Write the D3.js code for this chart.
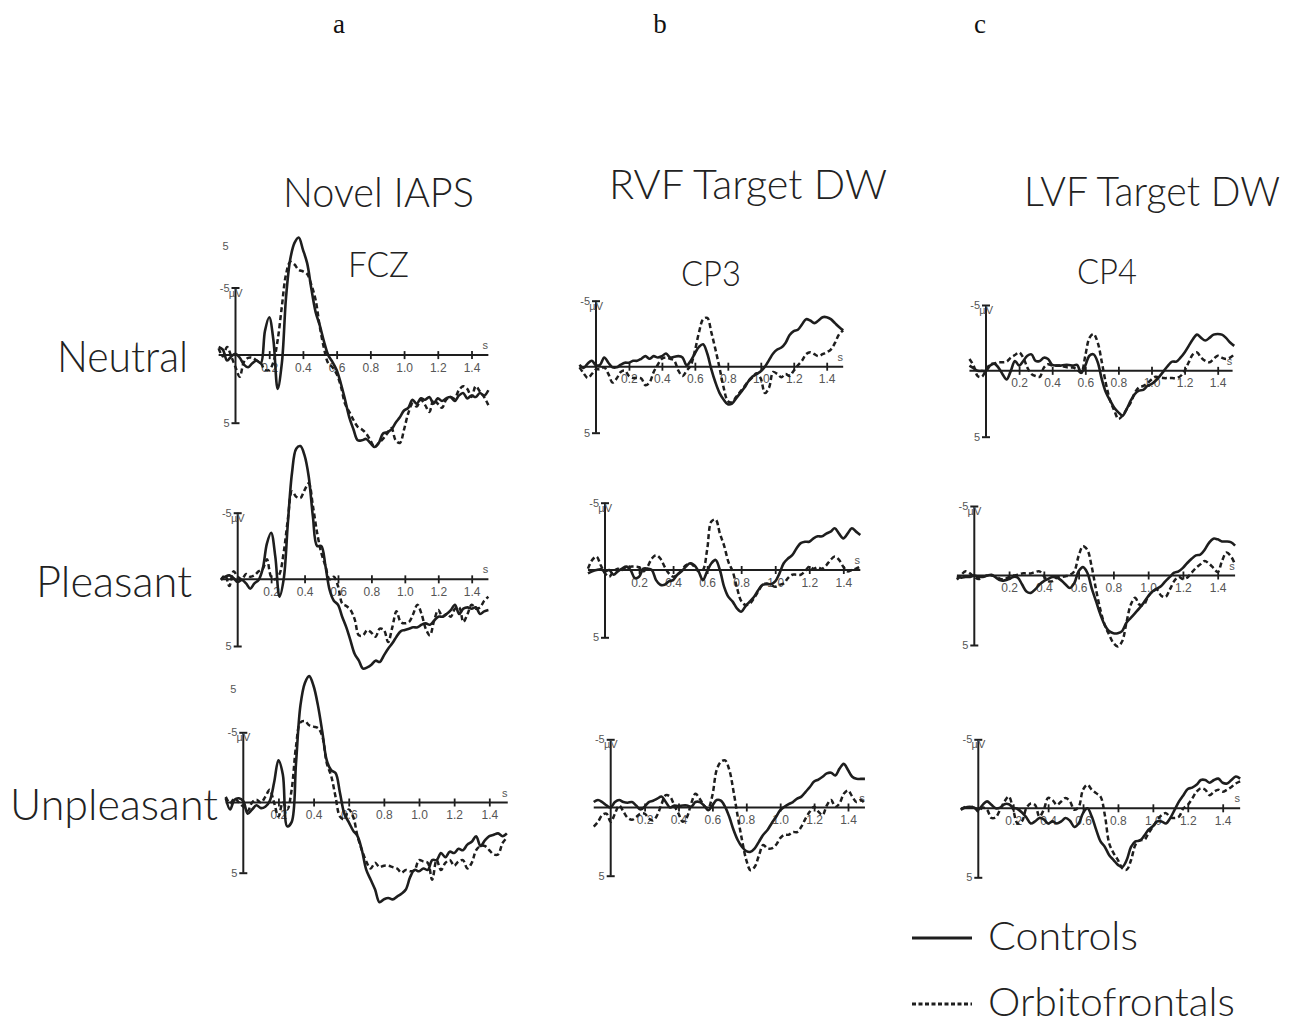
<!DOCTYPE html>
<html><head><meta charset="utf-8">
<script src="https://cdn.jsdelivr.net/npm/d3@7"></script>
<style>body{margin:0;background:#fff}svg{display:block}</style>
</head><body>
<script>
// ---------------- DATA ----------------
const time = [-0.1,-0.075,-0.05,-0.025,0,0.025,0.05,0.075,0.1,0.125,0.15,0.175,0.2,0.225,0.25,0.275,0.3,0.325,0.35,0.375,0.4,0.425,0.45,0.475,0.5,0.525,0.55,0.575,0.6,0.625,0.65,0.675,0.7,0.725,0.75,0.775,0.8,0.825,0.85,0.875,0.9,0.925,0.95,0.975,1.0,1.025,1.05,1.075,1.1,1.125,1.15,1.175,1.2,1.225,1.25,1.275,1.3,1.325,1.35,1.375,1.4,1.425,1.45,1.475,1.5];
const xTicks = [0.2,0.4,0.6,0.8,1.0,1.2,1.4];
const yTicks = [-5,5];
const columnLetters = ["a","b","c"];
const columnTitles = ["Novel IAPS","RVF Target DW","LVF Target DW"];
const electrodes = ["FCZ","CP3","CP4"];
const conditions = ["Neutral","Pleasant","Unpleasant"];
const groups = ["Controls","Orbitofrontals"];

// µV, negative plotted upward
const fczNeutralControls = [-0.6,-0.4,0.4,0.1,-0.1,0.2,0.7,0.9,0.6,0.4,0.6,-1.8,-2.8,-1.1,2.5,0.6,-4.3,-7.1,-8.3,-8.7,-7.8,-6.8,-4.9,-3.2,-2.2,-1.0,0,0.5,1.1,2.1,3.3,4.6,5.5,6.3,6.3,6.2,6.5,6.8,6.5,5.8,5.7,5.5,5.0,4.6,4.1,3.9,3.3,3.6,3.2,3.3,3.1,3.6,3.2,3.4,3.2,3.1,3.4,3.0,2.8,3.2,3.0,3.1,2.8,3.0,2.6];
const fczNeutralOrbito = [-0.5,0.1,-0.6,0.1,0.9,1.6,0.5,0.2,0.2,0.4,0.6,1.1,1.1,0.5,-1.1,-3.6,-6.0,-6.9,-6.7,-6.3,-6.2,-6.0,-5.2,-4.1,-2.1,-0.5,0.6,0.9,1.4,2.3,3.6,4.2,4.8,5.3,5.5,5.8,6.3,6.8,6.5,6.2,5.8,5.4,6.3,6.5,5.5,4.3,3.6,3.8,3.3,3.7,4.2,3.3,3.6,3.9,3.3,3.1,3.2,2.6,2.3,2.5,3.1,2.3,2.7,3.1,3.7];
const fczPleasantControls = [0,-0.2,-0.3,-0.1,0.2,0.05,0.3,0.7,0.3,0.05,-0.8,-2.7,-3.5,-1.7,1.3,0,-4.2,-8.0,-9.8,-10.0,-9.3,-7.7,-4.7,-2.5,-2.5,-1.0,0.8,1.6,1.9,2.8,3.6,4.6,5.6,6.1,6.7,6.6,6.4,6.1,6.2,5.7,5.2,4.8,4.3,3.9,3.8,3.7,3.6,3.6,3.4,3.3,3.4,3.1,2.8,2.8,2.6,2.3,1.9,2.6,2.2,2.1,2.2,2.1,2.6,2.4,2.3];
const fczPleasantOrbito = [0.05,-0.3,0.5,-0.6,-0.2,0,-0.4,-0.2,-0.3,-0.6,-0.8,-1.5,-0.2,0,-0.4,-2.0,-4.5,-6.6,-6.2,-6.1,-6.7,-7.2,-5.5,-3.5,-2.0,-1.0,0,-0.2,0.5,1.8,2.0,2.3,3.0,4.2,4.2,3.8,4.0,4.3,3.7,3.8,4.7,3.6,2.4,3.2,3.3,3.2,2.6,1.9,2.6,3.7,4.2,3.1,2.3,2.8,2.6,2.8,2.2,2.1,3.2,2.6,1.9,2.2,2.1,1.6,1.3];
const fczUnpleasantControls = [-0.3,0.5,-0.2,-0.3,-0.1,0.8,0.5,0.2,0.4,0.3,-0.1,-1.4,-3.0,-2.0,1.7,1.4,-2.8,-6.9,-8.5,-9.0,-8.3,-6.9,-5.0,-3.0,-2.3,-2.1,-0.7,0.8,1.4,2.0,2.4,3.4,4.8,5.5,6.2,7.1,6.9,6.8,6.9,6.7,6.5,6.2,5.3,4.8,4.9,4.7,4.8,4.1,4.1,3.6,3.9,3.5,3.6,3.3,3.4,3.0,2.8,2.4,3.1,2.7,2.4,2.3,2.2,2.4,2.2];
const fczUnpleasantOrbito = [-0.4,0.05,-0.3,0,0.3,0.6,0,-0.2,0,-0.4,-0.9,0,1.0,0,0.5,-0.9,-4.0,-5.7,-5.8,-5.5,-5.4,-5.3,-4.7,-2.8,-1.9,-0.4,1.0,1.2,0.5,1.0,2.4,3.4,4.2,4.7,4.3,4.6,4.5,4.5,4.6,4.7,5.0,4.8,4.9,4.8,4.1,4.2,4.3,5.5,4.1,4.8,4.3,4.1,4.5,4.2,4.1,4.7,4.3,3.4,3.1,3.1,3.4,3.7,3.7,2.9,2.5];
const cp3NeutralControls = [-0.15,0.1,-0.25,-0.45,-0.1,-0.15,-0.7,-0.3,0.05,0.05,-0.15,-0.3,-0.3,-0.45,-0.45,-0.6,-0.8,-0.6,-0.8,-0.7,-0.8,-1.0,-0.7,-0.75,-0.8,-0.7,-0.1,-0.45,-1.0,-1.5,-1.7,-1.0,0.2,1.2,2.0,2.5,2.85,2.8,2.4,2.0,1.6,1.1,0.75,0.55,0.35,0,-0.5,-1.0,-1.3,-1.45,-1.8,-2.4,-2.7,-2.8,-3.2,-3.6,-3.5,-3.3,-3.5,-3.75,-3.75,-3.6,-3.3,-3.0,-2.75];
const cp3NeutralOrbito = [0.05,0.5,0.85,0.55,0.2,0.2,0.05,0.55,1.2,0.9,0.4,0.3,0.7,0.85,0.85,0.9,1.4,1.2,0.4,-0.15,-0.6,-0.7,-0.6,-0.45,0.3,0.7,0.3,-0.1,-1.2,-2.6,-3.6,-3.7,-2.6,-1.3,0.1,1.6,2.6,2.7,2.3,1.9,1.5,1.1,0.8,0.5,0.9,2.0,1.6,0.4,0.55,0.8,0.55,0.7,0.3,-0.1,-0.45,-0.95,-1.1,-0.95,-0.8,-0.95,-1.1,-1.3,-1.8,-2.45,-2.75];
const cp3PleasantControls = [0.25,0.1,0,-0.05,0.1,0,0.35,0.1,-0.1,-0.25,0,0.6,0.5,-0.1,-0.1,0,0.75,1.1,1.1,0.85,0.75,0.35,0.1,-0.25,-0.5,-0.35,0.1,0.75,0.1,-0.5,-0.75,0,1.25,2.0,2.35,2.85,3.1,2.7,2.35,2.0,1.5,1.1,1.05,1.05,0.85,0.25,-0.5,-0.85,-1.1,-1.6,-2.0,-2.1,-2.1,-2.35,-2.5,-2.5,-2.7,-2.85,-3.1,-2.7,-2.35,-2.7,-3.1,-2.85,-2.6];
const cp3PleasantOrbito = [-0.1,-0.75,-1.0,-0.35,0.25,0.5,0.1,-0.1,0,-0.25,-0.25,-0.25,-0.2,0.1,-0.25,-0.85,-1.1,-0.85,-0.25,0.25,0.5,0.35,0,-0.35,-0.5,-0.25,0.1,0,-1.5,-3.6,-3.75,-2.7,-1.8,-0.6,0.1,1.3,2.3,2.6,2.5,2.1,1.6,1.1,1.0,1.1,1.25,1.1,1.0,0.6,0.35,0.35,0.35,0.1,-0.25,-0.1,-0.2,-0.1,-0.35,-0.75,-1.0,-0.75,-0.25,0.1,0,-0.1,-0.25];
const cp3UnpleasantControls = [-0.4,-0.55,-0.4,-0.15,0,-0.4,-0.55,-0.4,-0.35,-0.4,-0.15,0.15,-0.05,-0.4,-0.5,-0.65,-0.8,-0.4,0,-0.15,-0.1,-0.15,-0.15,-0.05,-0.4,-0.4,-0.15,0.2,-0.15,-0.55,-0.5,-0.05,0.7,1.65,2.4,2.9,3.2,3.25,3.0,2.5,2.0,1.65,1.15,0.7,0.2,-0.05,-0.25,-0.4,-0.65,-0.8,-1.15,-1.5,-1.9,-2.05,-2.25,-2.5,-2.55,-2.35,-2.85,-3.2,-2.75,-2.25,-2.1,-2.1,-2.1];
const cp3UnpleasantOrbito = [1.4,1.05,0.55,0.45,1.05,0.45,-0.15,0.3,0.75,0.9,0.7,0.45,0.45,0.8,0.95,0.55,-0.25,-0.9,-0.8,-0.15,0.45,1.05,0.7,-0.3,-1.0,-0.65,-0.15,0.05,-0.9,-2.75,-3.35,-3.45,-2.75,-1.15,0.7,2.4,3.85,4.6,4.35,3.5,2.75,3.0,3.0,2.75,2.25,2.0,2.0,1.8,1.8,1.4,0.8,0.3,-0.05,0.3,0.55,-0.15,-0.55,-0.05,-0.3,-1.0,-1.25,-0.8,-0.4,-0.55,-0.3];
const cp4NeutralControls = [-0.4,-0.2,0,0,0,-0.4,-0.55,-0.25,0.25,0.65,0,-0.75,-0.4,-0.75,-1.15,-1.25,-0.75,-0.75,-1.0,-0.9,-0.45,-0.4,-0.4,-0.45,-0.45,-0.4,-0.45,0.15,-0.4,-1.15,-1.25,-0.65,0.65,1.65,2.25,2.8,3.15,3.4,2.9,2.25,1.75,1.5,1.45,1.15,1.0,0.75,0.4,0,-0.4,-0.7,-0.7,-1.0,-1.4,-1.9,-2.4,-2.75,-2.5,-2.3,-2.5,-2.75,-2.8,-2.75,-2.5,-2.15,-1.9];
const cp4NeutralOrbito = [-0.9,-0.4,0.4,0.45,-0.05,-0.5,-0.55,-0.65,-0.65,-0.7,-1.0,-1.2,-1.4,-1.0,-0.25,0.25,0.4,0.45,-0.25,-0.5,-0.4,-0.4,-0.4,-0.3,-0.25,-0.25,-0.1,0.15,-1.15,-2.5,-2.8,-2.15,-0.65,1.0,2.25,3.0,3.65,3.4,2.9,2.4,1.65,1.25,1.15,0.95,0.65,0.45,0.5,0.55,0.55,0.55,0.55,0.4,0,-0.65,-1.25,-1.4,-1.0,-0.75,-0.65,-0.9,-1.15,-1.0,-0.9,-1.0,-1.25];
const cp4PleasantControls = [0.05,0.15,0.1,0.1,0,0.1,0.1,0,-0.05,0.15,0.35,0.35,0.25,0.1,0.15,0.65,1.15,1.25,1.0,0.65,0.4,0.25,0.1,0.15,0.35,0.65,0.9,0.55,-0.3,-0.6,-0.2,0.9,1.85,2.8,3.55,4.0,4.15,4.15,4.0,3.4,3.05,2.7,2.35,1.95,1.5,1.15,0.95,0.75,0.4,0.1,-0.2,-0.3,-0.55,-0.9,-1.2,-1.45,-1.5,-1.85,-2.35,-2.65,-2.6,-2.45,-2.45,-2.4,-2.15];
const cp4PleasantOrbito = [0.3,-0.05,-0.3,-0.15,0.1,0.25,0.1,0,0,0.1,0.25,0.25,0.1,0,-0.05,-0.15,-0.15,-0.15,-0.25,-0.3,0.05,0.4,0.4,0.15,0.1,0.05,-0.05,-0.3,-1.4,-2.1,-1.85,-0.65,1.0,2.45,3.55,4.25,4.85,5.1,4.75,3.4,2.1,1.6,2.1,2.1,1.5,1.15,1.0,1.45,1.55,1.0,0.4,0.1,0.25,0.15,-0.2,-0.55,-0.8,-1.05,-0.85,-0.55,-0.25,-1.05,-1.65,-1.4,-0.8];
const cp4UnpleasantControls = [0.1,-0.05,-0.1,-0.05,0.1,-0.25,-0.5,-0.25,0,-0.05,-0.3,-0.3,-0.05,0.05,0.3,0.65,1.1,0.95,0.7,0.8,1.1,0.95,1.1,0.95,0.7,0.9,1.35,1.1,0.35,0,0.6,1.55,2.4,2.8,3.4,3.75,4.1,4.25,3.75,2.8,2.4,2.35,2.0,1.55,1.3,0.95,0.95,1.1,0.7,0.1,-0.5,-0.95,-1.4,-1.5,-1.7,-2.05,-2.05,-1.85,-2.05,-2.15,-1.85,-1.8,-2.05,-2.3,-2.15];
const cp4UnpleasantOrbito = [0.1,-0.1,-0.05,-0.1,0.25,-0.05,0.1,0.7,0.65,0.1,-0.5,-0.85,0.1,1.1,0.95,0,-0.35,-0.25,0.6,0.1,-0.75,-0.6,-0.25,-0.5,-0.75,-0.5,0.1,-0.1,-1.35,-1.7,-1.35,-1.1,-0.85,0.5,2.55,3.25,3.75,4.35,4.45,3.75,2.65,2.3,2.3,1.8,1.35,0.85,0.5,0.35,0.65,0.7,0.6,0,-0.25,-0.7,-1.2,-1.45,-1.35,-0.95,-1.2,-1.35,-1.2,-1.35,-1.55,-1.8,-1.95];

// ---------------- LAYOUT ----------------
const panels = [
  {ctrl:fczNeutralControls,orb:fczNeutralOrbito,x0:235.5,x14:471.5,yTop:287.5,yBot:422.7,tEnd:1.5,extra5:true},
  {ctrl:fczPleasantControls,orb:fczPleasantOrbito,x0:237.7,x14:471.7,yTop:512.7,yBot:646,tEnd:1.5},
  {ctrl:fczUnpleasantControls,orb:fczUnpleasantOrbito,x0:243.3,x14:489.3,yTop:732.3,yBot:872.7,tEnd:1.505,extra5:true},
  {ctrl:cp3NeutralControls,orb:cp3NeutralOrbito,x0:596,x14:826.7,yTop:300.7,yBot:432.7,tEnd:1.5},
  {ctrl:cp3PleasantControls,orb:cp3PleasantOrbito,x0:605,x14:843.3,yTop:502.7,yBot:637.3,tEnd:1.5},
  {ctrl:cp3UnpleasantControls,orb:cp3UnpleasantOrbito,x0:610.7,x14:848,yTop:739.3,yBot:875.7,tEnd:1.5},
  {ctrl:cp4NeutralControls,orb:cp4NeutralOrbito,x0:986,x14:1217.7,yTop:305,yBot:436.7,tEnd:1.49},
  {ctrl:cp4PleasantControls,orb:cp4PleasantOrbito,x0:974.3,x14:1217.7,yTop:506,yBot:645,tEnd:1.5},
  {ctrl:cp4UnpleasantControls,orb:cp4UnpleasantOrbito,x0:978.3,x14:1222.7,yTop:739.3,yBot:877.3,tEnd:1.5}
];
const INK = "#1e1e1e";
const TICKC = "#555";
const SANS = "'Liberation Sans', Arial, sans-serif";
const GOTH = "Lato, 'Noto Sans', sans-serif";

const svg = d3.select("body").append("svg").attr("width",1298).attr("height",1024);
svg.append("rect").attr("width",1298).attr("height",1024).attr("fill","#fff");

// column letters
const letterX = [339,660,980];
columnLetters.forEach((l,i)=>{
  svg.append("text").attr("x",letterX[i]).attr("y",33).attr("text-anchor","middle")
    .attr("font-family","'Liberation Serif', 'Times New Roman', serif").attr("font-size",27).attr("fill","#111").text(l);
});
// column titles
const titlePos = [{x:283,y:207,w:191},{x:609,y:199,w:278},{x:1024,y:206,w:256}];
columnTitles.forEach((t,i)=>{
  svg.append("text").attr("x",titlePos[i].x).attr("y",titlePos[i].y)
    .attr("font-family",GOTH).attr("font-weight",300).attr("font-size",41).attr("fill","#222")
    .attr("textLength",titlePos[i].w).attr("lengthAdjust","spacingAndGlyphs").text(t);
});
// electrode labels
const elecPos = [{x:348,y:277,w:61},{x:681,y:286,w:60},{x:1077,y:284,w:60}];
electrodes.forEach((t,i)=>{
  svg.append("text").attr("x",elecPos[i].x).attr("y",elecPos[i].y)
    .attr("font-family",GOTH).attr("font-weight",300).attr("font-size",35).attr("fill","#222")
    .attr("textLength",elecPos[i].w).attr("lengthAdjust","spacingAndGlyphs").text(t);
});
// row labels
const rowPos = [{x:57,y:372,w:131},{x:36,y:597,w:156},{x:10,y:820,w:208}];
conditions.forEach((t,i)=>{
  svg.append("text").attr("x",rowPos[i].x).attr("y",rowPos[i].y)
    .attr("font-family",GOTH).attr("font-weight",300).attr("font-size",43).attr("fill","#222")
    .attr("textLength",rowPos[i].w).attr("lengthAdjust","spacingAndGlyphs").text(t);
});

// panels
panels.forEach(p=>{
  const x = d3.scaleLinear().domain([0,1.4]).range([p.x0,p.x14]);
  const y = d3.scaleLinear().domain([-5,5]).range([p.yTop,p.yBot]);
  const g = svg.append("g");
  // x axis
  const ax = g.append("g").attr("transform",`translate(0,${y(0)})`)
    .call(d3.axisBottom(x).tickValues(xTicks).tickSize(4).tickPadding(4).tickFormat(d=>d.toFixed(1)));
  ax.select(".domain").remove();
  ax.selectAll(".tick line").attr("y1",-4).attr("y2",4).attr("stroke",INK).attr("stroke-width",1.8);
  ax.selectAll(".tick text").attr("font-family",SANS).attr("font-size",12).attr("fill",TICKC);
  ax.append("line").attr("x1",x(-0.1)).attr("x2",x(p.tEnd)).attr("y1",0).attr("y2",0)
    .attr("stroke",INK).attr("stroke-width",2);
  ax.append("text").attr("x",x(p.tEnd)-3).attr("y",-6).attr("text-anchor","middle")
    .attr("font-family",SANS).attr("font-size",11).attr("fill",TICKC).text("s");
  // y axis
  const ay = g.append("g").attr("transform",`translate(${x(0)},0)`)
    .call(d3.axisLeft(y).tickValues(yTicks).tickSize(4).tickPadding(2).tickFormat(d=>d<0?"-5":"5"));
  ay.select(".domain").remove();
  ay.selectAll(".tick line").attr("x1",-4).attr("x2",4).attr("stroke",INK).attr("stroke-width",2);
  ay.selectAll(".tick text").attr("font-family",SANS).attr("font-size",11).attr("fill",TICKC);
  ay.append("line").attr("x1",0).attr("x2",0).attr("y1",y(-5)).attr("y2",y(5)).attr("stroke",INK).attr("stroke-width",2);
  ay.append("text").attr("x",7).attr("y",y(-5)+9).attr("font-family",SANS).attr("font-size",11).attr("fill",TICKC).text("µV");
  if(p.extra5){
    g.append("text").attr("x",x(0)-7).attr("y",y(-8.1)+4).attr("text-anchor","end")
      .attr("font-family",SANS).attr("font-size",11).attr("fill",TICKC).text("5");
  }
  const line = d3.line().x((d,i)=>x(time[i])).y(d=>y(d)).curve(d3.curveCatmullRom.alpha(0.5));
  g.append("path").attr("d",line(p.orb)).attr("fill","none").attr("stroke",INK)
    .attr("stroke-width",2.5).attr("stroke-dasharray","5,3");
  g.append("path").attr("d",line(p.ctrl)).attr("fill","none").attr("stroke",INK)
    .attr("stroke-width",2.6);
});

// legend
const legY = [938,1004];
groups.forEach((gname,i)=>{
  svg.append("line").attr("x1",912).attr("x2",972).attr("y1",legY[i]).attr("y2",legY[i])
    .attr("stroke",INK).attr("stroke-width",3).attr("stroke-dasharray",i===1?"4,2.5":null);
  svg.append("text").attr("x",988).attr("y",legY[i]+12).attr("font-family",GOTH).attr("font-weight",300)
    .attr("font-size",40).attr("fill","#222").attr("textLength",i===0?150:247).attr("lengthAdjust","spacingAndGlyphs").text(gname);
});
</script>
</body></html>
